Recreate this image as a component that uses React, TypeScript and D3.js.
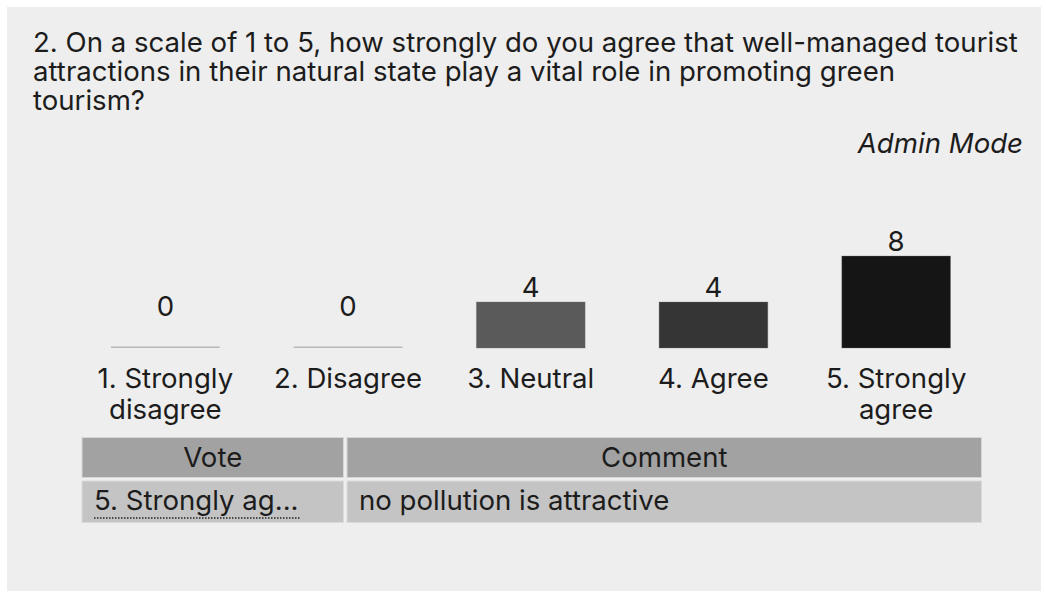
import React from "react";
import * as d3 from "d3";

const titleLines = [
  "2. On a scale of 1 to 5, how strongly do you agree that well-managed tourist",
  "attractions in their natural state play a vital role in promoting green",
  "tourism?",
];
const modeLabel = "Admin Mode";
const categories = ["1. Strongly disagree", "2. Disagree", "3. Neutral", "4. Agree", "5. Strongly agree"];
const categoryLines = [["1. Strongly", "disagree"], ["2. Disagree"], ["3. Neutral"], ["4. Agree"], ["5. Strongly", "agree"]];
const votes = [0, 0, 4, 4, 8];
const tableHeaders = ["Vote", "Comment"];
const tableRows = [["5. Strongly ag...", "no pollution is attractive"]];

const barColors = ["#b8b8b8", "#b8b8b8", "#5a5a5a", "#353535", "#151515"];

const W = 1046;
const H = 596;
const FONT = "Inter, Roboto, sans-serif";
const FS = 27.6;
const TXT = "#1c1c1c";

export default function App() {
  const x = d3.scaleBand<string>().domain(categories).range([74, 987.5]).paddingInner(0.405).paddingOuter(0.2025);
  const y = d3.scaleLinear().domain([0, 8]).range([348, 256]);
  const bw = x.bandwidth();

  const colX = [82, 347, 981.5];
  const colEnd = [343.5, 981.5];
  const rowY = [437.5, 481, 522.5];

  return (
    <svg width={W} height={H} style={{ position: "absolute", left: 0, top: 0, display: "block" }} fontFamily={FONT}>
      <rect x={0} y={0} width={W} height={H} fill="#ffffff" />
      <rect x={7} y={7} width={1034} height={584} fill="#eeeeee" />
      {titleLines.map((t, i) => (
        <text key={i} x={33} y={52 + i * 29} fontSize={FS} fill={TXT}>{t}</text>
      ))}
      <text x={1023} y={153} fontSize={FS} fontStyle="italic" textAnchor="end" fill={TXT}>{modeLabel}</text>

      {categories.map((c, i) => {
        const v = votes[i];
        const bx = x(c)!;
        const cx = bx + bw / 2;
        const top = y(v);
        const labelY = v === 0 ? 316 : top - 5;
        return (
          <g key={c}>
            {v === 0 ? (
              <rect x={bx} y={y(0) - 1.5} width={bw} height={1.5} fill={barColors[i]} />
            ) : (
              <rect x={bx} y={top} width={bw} height={y(0) - top} fill={barColors[i]} stroke="#6e6e6e" strokeOpacity={0.35} strokeWidth={1} />
            )}
            <text x={cx} y={labelY} fontSize={FS} textAnchor="middle" fill={TXT}>{v}</text>
            {categoryLines[i].map((l, j) => (
              <text key={j} x={cx} y={388 + j * 31} fontSize={FS} textAnchor="middle" fill={TXT}>{l}</text>
            ))}
          </g>
        );
      })}

      {tableHeaders.map((h, j) => (
        <g key={h}>
          <rect x={colX[j]} y={rowY[0]} width={colEnd[j] - colX[j]} height={rowY[1] - 3.5 - rowY[0]} fill="#a2a2a2" stroke="#d6d6d6" strokeWidth={1} />
          <text x={(colX[j] + colEnd[j]) / 2} y={466.5} fontSize={FS} textAnchor="middle" fill={TXT}>{h}</text>
        </g>
      ))}
      {tableRows.map((r, ri) => (
        <g key={ri}>
          {r.map((cell, j) => (
            <g key={j}>
              <rect x={colX[j]} y={rowY[1]} width={colEnd[j] - colX[j]} height={rowY[2] - rowY[1]} fill="#c4c4c4" stroke="#d9d9d9" strokeWidth={1} />
              <text x={colX[j] + 12} y={509.5} fontSize={FS} fill={TXT}>{cell}</text>
              {j === 0 && (
                <line x1={colX[j] + 12} x2={300} y1={518} y2={518} stroke="#222" strokeWidth={1.5} strokeDasharray="1.5,1.5" />
              )}
            </g>
          ))}
        </g>
      ))}
    </svg>
  );
}
